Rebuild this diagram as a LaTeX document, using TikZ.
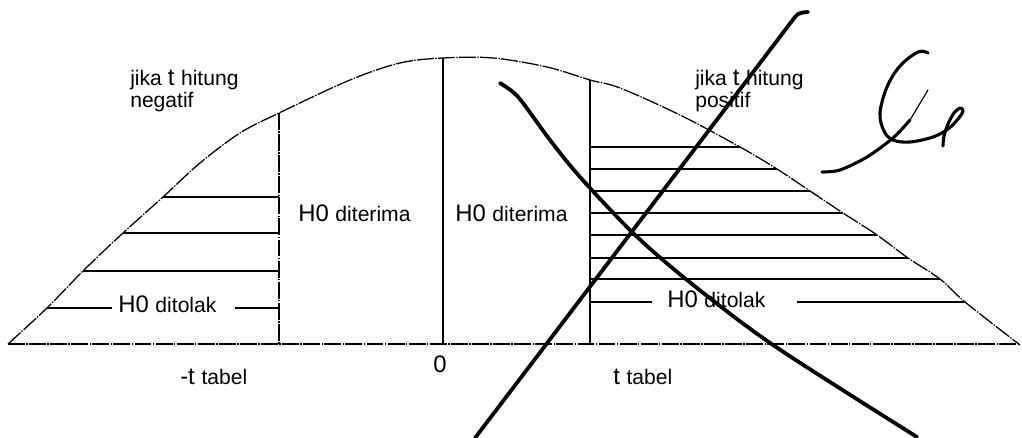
\documentclass[tikz,border=0pt]{standalone}
\usepackage{fontspec}
\setmainfont{Liberation Sans}
\usetikzlibrary{positioning}
\definecolor{ink}{HTML}{000000}
\newcommand\bigtx{\fontsize{17}{19}\selectfont}
\newcommand\smtx{\fontsize{15}{17}\selectfont}

\begin{document}
\begin{tikzpicture}[x=0.025cm,y=-0.025cm,
  every node/.style={text=ink,inner sep=0pt,font=\smtx},
  bell/.style={ink,line width=0.9pt,dash pattern=on 12pt off 1pt on 1pt off 1pt},
  hatch/.style={ink,line width=1.3pt},
  pen/.style={ink,line width=2.7pt,line cap=round,line join=round}]
  \useasboundingbox (0,0) rectangle (1022,438);
  % kurva dan sumbu
  \draw[bell] plot[smooth,tension=0.55] coordinates {(8,344) (47,308) (83,271) (123,233) (163,197) (200,163)
    (240,133) (279,113) (350,80) (400,63) (443,58) (493,58) (547,67) (590,80) (620,88) (680,115)
    (740,147) (777,169) (810,191) (843,213) (877,235) (908,258) (940,279) (965,302) (1020,345)};
  \draw[bell] (8,344) -- (1020,344);
  \draw[bell] (279,113) -- (279,344);
  \draw[hatch] (443,58) -- (443,344);
  \draw[hatch] (590,80) -- (590,344);
  % arsiran daerah tolak
  \foreach \y/\x in {197/163,233/123,271/83}{\draw[hatch] (\x,\y) -- (279,\y);}
  \foreach \y/\x in {147/740,169/777,191/810,213/843,235/877,258/908,279/940}{\draw[hatch] (590,\y) -- (\x,\y);}
  % teks
  \node (tlkL) [anchor=base west] at (118,313) {\bigtx H0 \smtx ditolak};
  \node (tlkR) [anchor=base west] at (667,308) {\bigtx H0 \smtx ditolak};
  \draw[hatch] (47,308) -- (112,308);
  \draw[hatch] (235,308) -- (279,308);
  \draw[hatch] (590,302) -- (652,302);
  \draw[hatch] (797,302) -- (965,302);
  \node (trmL) [anchor=base west] at (298,222) {\bigtx H0 \smtx diterima};
  \node (trmC) [anchor=base west] at (455,222) {\bigtx H0 \smtx diterima};
  \node (jkN) [anchor=base west] at (130,86) {jika \bigtx t \smtx hitung};
  \node (neg) [anchor=base west] at (130,108) {negatif};
  \node (jkP) [anchor=base west] at (695,86) {jika \bigtx t \smtx hitung};
  \node (pos) [anchor=base west] at (695,108) {positif};
  \node (tbN) [anchor=base west] at (180,385) {\bigtx -t \smtx tabel};
  \node (nol) [anchor=base] at (440,373) {\bigtx 0};
  \node (tbP) [anchor=base west] at (613,385) {\bigtx t \smtx tabel};
  % coretan tangan
  \draw[pen] (808,12) to[out=185,in=55] (795,17) -- (475,438);
  \draw[pen] plot[smooth] coordinates {(500,83) (513,92) (523,103) (550,140) (580,177) (633,233)
    (687,280) (773,345) (917,437)};
  \draw[pen,line width=2.2pt] plot[smooth,tension=0.6] coordinates {(928,53) (918,52) (900,66) (887,87)
    (880,113) (884,131) (893,140) (910,142) (933,137) (948,129) (958,119) (963,111) (960,108)
    (954,113) (948,124) (944,136) (943,146)};
  \draw[pen,line width=2.2pt] plot[smooth] coordinates {(822,172) (840,170) (867,157) (893,138) (910,120)};
  \draw[ink,line width=0.8pt,line cap=round] (910,120) -- (928,90);
\end{tikzpicture}
\end{document}
